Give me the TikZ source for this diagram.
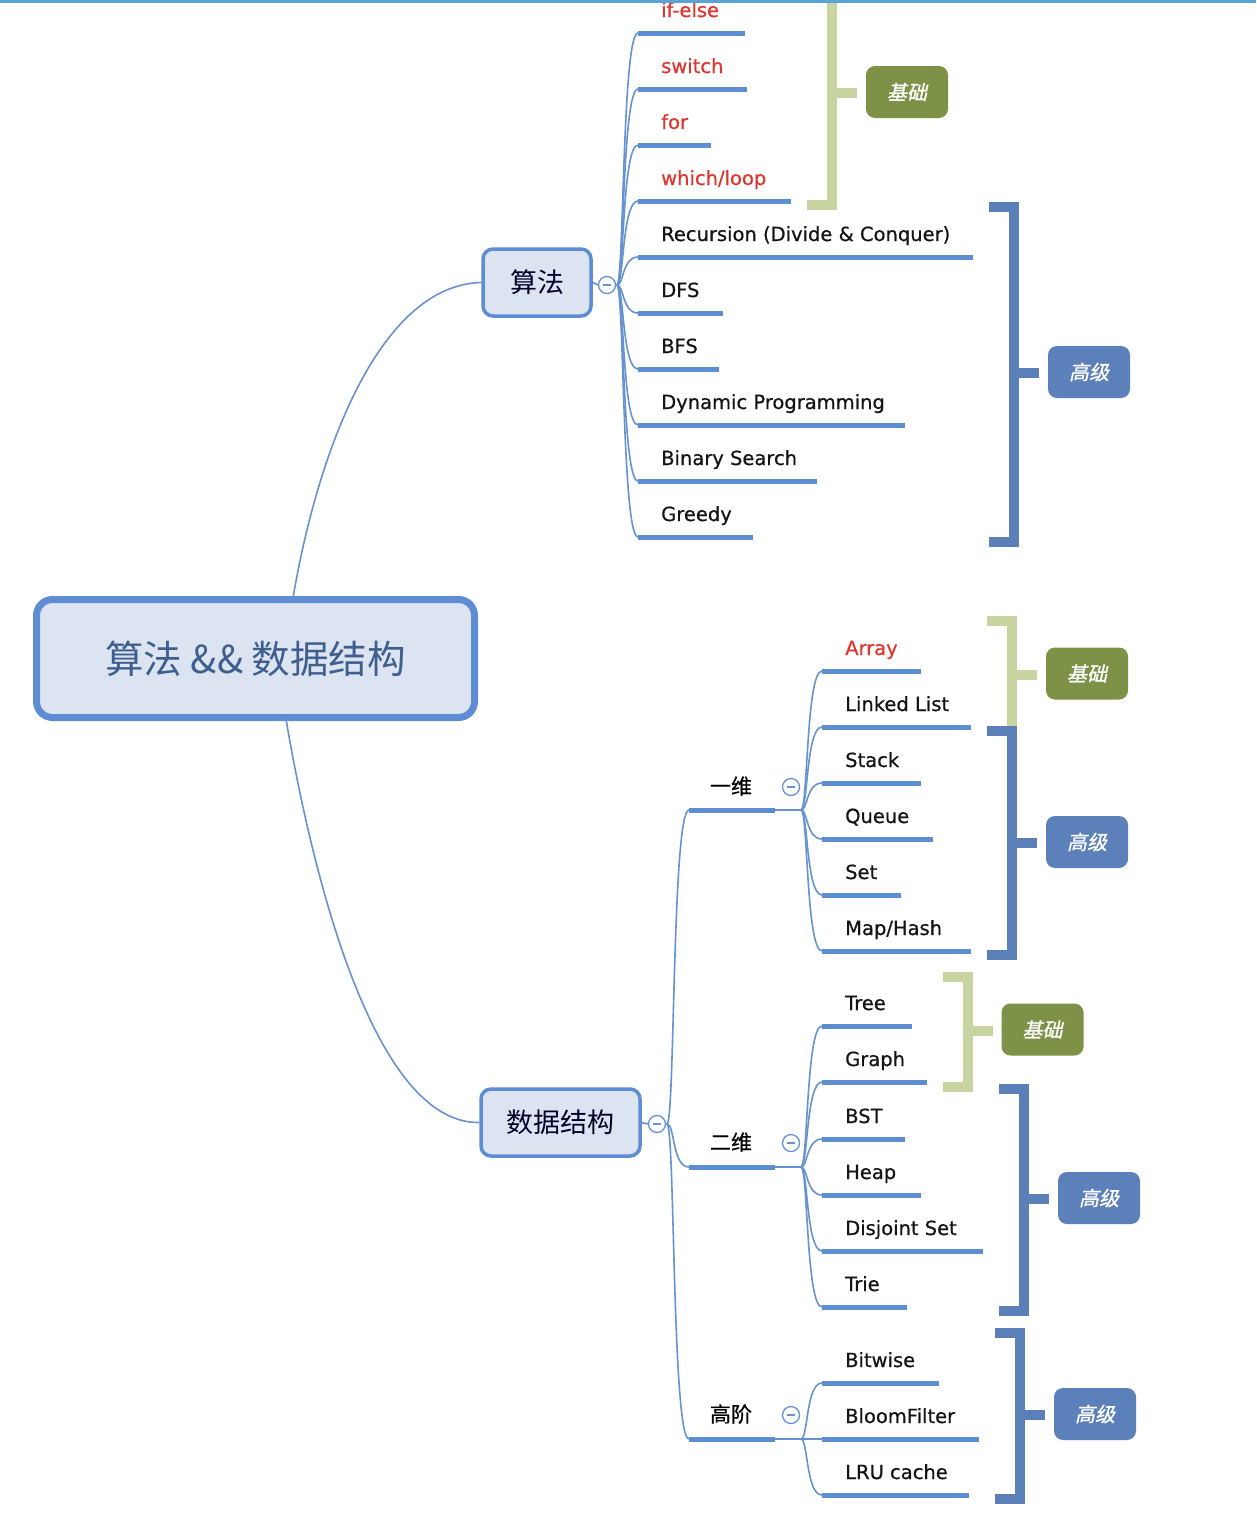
\documentclass[tikz,border=0pt]{standalone}
\usepackage{fontspec}
\setmainfont{DejaVu Sans}[FakeBold=0.6]
\newfontfamily\cjk{Noto Sans CJK SC}
\newfontfamily\cjkmid{Noto Sans CJK SC}[FakeBold=0.6]
\newfontfamily\cjktag{Noto Sans CJK SC}[FakeSlant=0.22,FakeBold=1.2]
\usetikzlibrary{calc}
\definecolor{lineblue}{HTML}{6792D0}
\definecolor{ulblue}{HTML}{5E8ED2}
\definecolor{brblue}{HTML}{5B7FB9}
\definecolor{brgreen}{HTML}{C8D5A0}
\definecolor{taggreen}{HTML}{7D9247}
\definecolor{tagblue}{HTML}{5B80BA}
\definecolor{nodefill}{HTML}{DCE4F2}
\definecolor{nodeborder}{HTML}{5F8DD3}
\definecolor{roottext}{HTML}{3E5F8E}
\definecolor{redtext}{HTML}{E0352D}
\definecolor{topline}{HTML}{5BA3D6}
\begin{document}
\begin{tikzpicture}[x=1pt,y=-1pt,
 leaf/.style={anchor=base west, inner sep=0pt, font=\fontsize{19.5}{23}\selectfont, text=black!92},
 redleaf/.style={leaf, text=redtext},
 uline/.style={ulblue, line width=5pt},
 thinline/.style={lineblue, line width=1.6pt},
 branch/.style={thinline, to path={.. controls ($(\tikztostart)+(7,0)$) and ($(\tikztotarget)+(-16,0)$) .. (\tikztotarget)}},
 trunk/.style={thinline, to path={.. controls ($(\tikztostart)+(8,0)$) and ($(\tikztotarget)+(-17,0)$) .. (\tikztotarget)}},
 brk/.style={line width=10pt, line join=miter, line cap=butt},
 tagbox/.style={rounded corners=9pt, minimum width=82pt, minimum height=52pt, inner sep=0pt, text=white, font=\cjktag\fontsize{20}{24}\selectfont},
 topic/.style={draw=nodeborder, fill=nodefill, line width=3.5pt, rounded corners=10pt, minimum height=67pt, inner sep=0pt, font=\cjk\fontsize{27}{30}\selectfont, text=black!85!blue},
 collapse/.style={circle, draw=lineblue, fill=white, line width=1.3pt, minimum size=17pt, inner sep=0pt},
 midlabel/.style={inner sep=0pt, font=\cjkmid\fontsize{21}{24}\selectfont, text=black, text height=16pt, text depth=2pt}
]
\useasboundingbox (0,0) rectangle (1256,1518);
\fill[white] (0,0) rectangle (1256,1518);

% ---------- brackets ----------
\draw[brk, brgreen] (807,205) -- (832,205) -- (832,0);
\draw[brk, brgreen] (832,92.5) -- (857,92.5);
\draw[brk, brblue] (989,207) -- (1014,207) -- (1014,541.5) -- (989,541.5);
\draw[brk, brblue] (1014,373) -- (1039,373);

\draw[brk, brgreen] (987,621) -- (1012,621) -- (1012,727);
\draw[brk, brgreen] (1012,675) -- (1037,675);
\draw[brk, brblue] (987,731) -- (1012,731) -- (1012,954.5) -- (987,954.5);
\draw[brk, brblue] (1012,843) -- (1037,843);

\draw[brk, brgreen] (943,976.5) -- (968,976.5) -- (968,1086.5) -- (943,1086.5);
\draw[brk, brgreen] (968,1030.5) -- (993,1030.5);
\draw[brk, brblue] (999,1088.5) -- (1024,1088.5) -- (1024,1310.5) -- (999,1310.5);
\draw[brk, brblue] (1024,1198.5) -- (1049,1198.5);
\draw[brk, brblue] (995,1333) -- (1020,1333) -- (1020,1499) -- (995,1499);
\draw[brk, brblue] (1020,1415) -- (1045,1415);

% ---------- tags ----------
\node[tagbox, fill=taggreen] (t1) at (907,92) {基础};
\node[tagbox, fill=tagblue] (t2) at (1089,372) {高级};
\node[tagbox, fill=taggreen] (t3) at (1087,673.5) {基础};
\node[tagbox, fill=tagblue] (t4) at (1087,842) {高级};
\node[tagbox, fill=taggreen] (t5) at (1042.5,1029.5) {基础};
\node[tagbox, fill=tagblue] (t6) at (1099,1198) {高级};
\node[tagbox, fill=tagblue] (t7) at (1095,1414) {高级};

% ---------- root and topics ----------
\node[draw=nodeborder, fill=nodefill, line width=7pt, rounded corners=16pt,
      minimum width=438pt, minimum height=118pt, inner sep=0pt,
      font=\cjk\fontsize{38.5}{42}\selectfont, text=roottext] (root) at (255.5,658.5) {\raisebox{-1.5pt}{算法 \&\& 数据结构}};
\node[topic, minimum width=108pt] (alg) at (537,282.5) {算法};
\node[topic, minimum width=159pt] (ds) at (560.5,1122.5) {数据结构};

\coordinate (rtop) at (293,598);
\coordinate (rbot) at (286,719);
\draw[thinline] (rtop) .. controls (318,450) and (380,285) .. (alg.west);
\draw[thinline] (rbot) .. controls (311,867) and (372,1124) .. (ds.west);

% ---------- algorithm branch ----------
\node[collapse] (ca) at (607,285) {};
\draw[lineblue, line width=1.2pt] ($(ca.center)+(-4,0)$) -- ($(ca.center)+(4,0)$);
\draw[thinline] (alg.east) -- (ca.west);
\coordinate (ao) at (617,285);
\draw[thinline] (ca.east) -- (ao);
\foreach \n/\y/\e in {a1/33/745, a2/89/747, a3/145/711, a4/201/791, a5/257/973, a6/313/723, a7/369/719, a8/425/905, a9/481/817, a10/537/753}{
  \coordinate (\n) at (638,\y);
  \draw[branch] (ao) to (\n);
  \draw[uline] (\n) -- (\e,\y);
}
\node[redleaf] (la1) at (661,17) {if-else};
\node[redleaf] (la2) at (661,73) {switch};
\node[redleaf] (la3) at (661,129) {for};
\node[redleaf] (la4) at (661,185) {which/loop};
\node[leaf] (la5) at (661,241) {Recursion (Divide \& Conquer)};
\node[leaf] (la6) at (661,297) {DFS};
\node[leaf] (la7) at (661,353) {BFS};
\node[leaf] (la8) at (661,409) {Dynamic Programming};
\node[leaf] (la9) at (661,465) {Binary Search};
\node[leaf] (la10) at (661,521) {Greedy};

% ---------- data structure branch ----------
\node[collapse] (cd) at (657,1124) {};
\draw[lineblue, line width=1.2pt] ($(cd.center)+(-4,0)$) -- ($(cd.center)+(4,0)$);
\draw[thinline] (ds.east) -- (cd.west);
\coordinate (do) at (667,1124);
\draw[thinline] (cd.east) -- (do);

\foreach \n/\y in {m1/810, m2/1167, m3/1439}{
  \coordinate (\n) at (689,\y);
  \draw[trunk] (do) to (\n);
  \draw[uline] (\n) -- (775,\y);
  \coordinate (\n o) at (801,\y);
  \draw[thinline] (775,\y) -- (\n o);
}
\node[midlabel] (lm1) at (731,787) {一维};
\node[midlabel] (lm2) at (731,1143) {二维};
\node[midlabel] (lm3) at (731,1415) {高阶};
\foreach \n/\y in {c1/787, c2/1143, c3/1415}{
  \node[collapse] (\n) at (791,\y) {};
  \draw[lineblue, line width=1.2pt] ($(\n.center)+(-4,0)$) -- ($(\n.center)+(4,0)$);
}

% one-dimensional
\foreach \n/\y/\e in {b1/671/921, b2/727/971, b3/783/921, b4/839/933, b5/895/901, b6/951/971}{
  \coordinate (\n) at (822,\y);
  \draw[branch] (m1o) to (\n);
  \draw[uline] (\n) -- (\e,\y);
}
\node[redleaf] (lb1) at (845,655) {Array};
\node[leaf] (lb2) at (845,711) {Linked List};
\node[leaf] (lb3) at (845,767) {Stack};
\node[leaf] (lb4) at (845,823) {Queue};
\node[leaf] (lb5) at (845,879) {Set};
\node[leaf] (lb6) at (845,935) {Map/Hash};

% two-dimensional
\foreach \n/\y/\e in {e1/1026/912, e2/1082/927, e3/1139/905, e4/1195/921, e5/1251/983, e6/1307/907}{
  \coordinate (\n) at (822,\y);
  \draw[branch] (m2o) to (\n);
  \draw[uline] (\n) -- (\e,\y);
}
\node[leaf] (le1) at (845,1010) {Tree};
\node[leaf] (le2) at (845,1066) {Graph};
\node[leaf] (le3) at (845,1123) {BST};
\node[leaf] (le4) at (845,1179) {Heap};
\node[leaf] (le5) at (845,1235) {Disjoint Set};
\node[leaf] (le6) at (845,1291) {Trie};

% higher-order
\foreach \n/\y/\e in {h1/1383/939, h2/1439/979, h3/1495/969}{
  \coordinate (\n) at (822,\y);
  \draw[branch] (m3o) to (\n);
  \draw[uline] (\n) -- (\e,\y);
}
\node[leaf] (lh1) at (845,1367) {Bitwise};
\node[leaf] (lh2) at (845,1423) {BloomFilter};
\node[leaf] (lh3) at (845,1479) {LRU cache};

% top rule
\fill[topline] (0,0) rectangle (1256,3);
\end{tikzpicture}
\end{document}
